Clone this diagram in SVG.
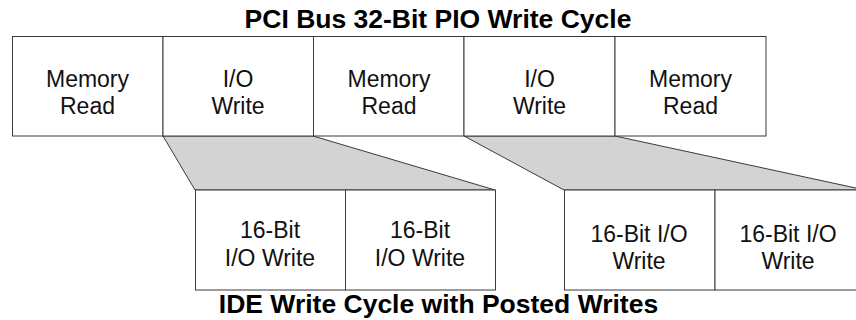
<svg xmlns="http://www.w3.org/2000/svg" width="856" height="320" viewBox="0 0 856 320">
<style>
.box{fill:#fff;stroke:#3a3a3a;stroke-width:1}
.fan{fill:#d3d3d3;stroke:#3a3a3a;stroke-width:1;stroke-linejoin:miter}
.lbl{font-family:"Liberation Sans",Arial,Helvetica,sans-serif;font-size:23px;fill:#111;text-anchor:middle}
.ttl{font-family:"Liberation Sans",Arial,Helvetica,sans-serif;font-size:26.5px;font-weight:bold;fill:#000;text-anchor:middle}
</style>
<rect width="856" height="320" fill="#fff"/>
<text class="ttl" x="438" y="28">PCI Bus 32-Bit PIO Write Cycle</text>
<g id="connectors">
<polygon class="fan" points="163,136 313,136 495,190 195,190"/>
<polygon class="fan" points="464,136 615,136 865,190 564,190"/>
</g>
<g id="pci-mem-read-1"><rect class="box" x="12.5" y="36.5" width="150.5" height="99.5"/><text class="lbl" x="87.5" y="87">Memory</text><text class="lbl" x="87.5" y="114">Read</text></g>
<g id="pci-io-write-1"><rect class="box" x="163" y="36.5" width="150.5" height="99.5"/><text class="lbl" x="238" y="87">I/O</text><text class="lbl" x="238" y="114">Write</text></g>
<g id="pci-mem-read-2"><rect class="box" x="313.5" y="36.5" width="150.5" height="99.5"/><text class="lbl" x="389" y="87">Memory</text><text class="lbl" x="389" y="114">Read</text></g>
<g id="pci-io-write-2"><rect class="box" x="464" y="36.5" width="151" height="99.5"/><text class="lbl" x="539.5" y="87">I/O</text><text class="lbl" x="539.5" y="114">Write</text></g>
<g id="pci-mem-read-3"><rect class="box" x="615" y="36.5" width="151" height="99.5"/><text class="lbl" x="690.5" y="87">Memory</text><text class="lbl" x="690.5" y="114">Read</text></g>
<g id="ide-write-1"><rect class="box" x="195.5" y="190" width="150" height="100"/><text class="lbl" x="270" y="238">16-Bit</text><text class="lbl" x="270" y="266">I/O Write</text></g>
<g id="ide-write-2"><rect class="box" x="345.5" y="190" width="150" height="100"/><text class="lbl" x="420" y="238">16-Bit</text><text class="lbl" x="420" y="266">I/O Write</text></g>
<g id="ide-write-3"><rect class="box" x="564.5" y="190" width="150.5" height="100"/><text class="lbl" x="639" y="242">16-Bit I/O</text><text class="lbl" x="639" y="269">Write</text></g>
<g id="ide-write-4"><rect class="box" x="715" y="190" width="150" height="100"/><text class="lbl" x="788" y="242">16-Bit I/O</text><text class="lbl" x="788" y="269">Write</text></g>
<text class="ttl" x="438.5" y="313">IDE Write Cycle with Posted Writes</text>
</svg>
